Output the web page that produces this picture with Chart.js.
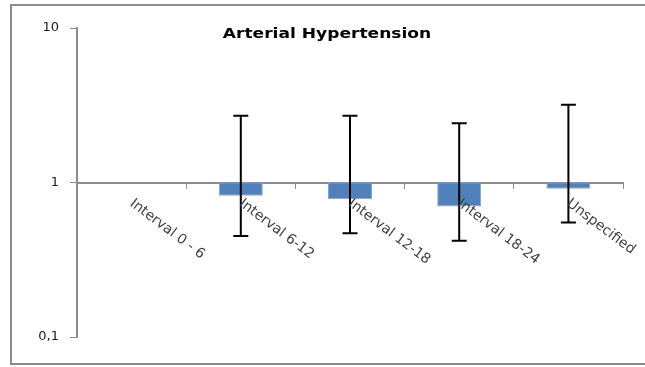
<!DOCTYPE html>
<html>
<head>
<meta charset="utf-8">
<script src="https://cdn.jsdelivr.net/npm/chart.js@4/dist/chart.umd.min.js"></script>
<style>
  html, body { margin: 0; padding: 0; background: #ffffff; overflow: hidden; }
  #wrap { width: 645px; height: 367px; position: relative; }
</style>
</head>
<body>
<div id="wrap"><canvas id="c" width="645" height="367"></canvas></div>
<script>
const chartTitle = 'Arterial Hypertension';
const categories = ['Interval 0 - 6', 'Interval 6-12', 'Interval 12-18', 'Interval 18-24', 'Unspecified'];
const oddsRatio = [null, 0.82, 0.78, 0.70, 0.91];
const errLow = [null, 0.45, 0.47, 0.42, 0.55];
const errHigh = [null, 2.70, 2.70, 2.42, 3.19];
const yTickValues = [0.1, 1, 10];
const yTickLabels = ['0,1', '1', '10'];

const barData = oddsRatio.map(v => v == null ? null : [v, 1]);

const decorPlugin = {
  id: 'decor',
  beforeDraw(chart) {
    const ctx = chart.ctx;
    ctx.save();
    ctx.fillStyle = '#ffffff';
    ctx.fillRect(0, 0, chart.width, chart.height);
    ctx.strokeStyle = '#8c8c8c';
    ctx.lineWidth = 2;
    ctx.beginPath();
    ctx.moveTo(chart.width + 5, 5);
    ctx.lineTo(11, 5);
    ctx.lineTo(11, 364);
    ctx.lineTo(chart.width + 5, 364);
    ctx.stroke();
    ctx.restore();
  },
  afterDatasetsDraw(chart) {
    const ctx = chart.ctx;
    const xs = chart.scales.x, ys = chart.scales.y;
    ctx.save();
    ctx.strokeStyle = '#000000';
    ctx.lineWidth = 2;
    categories.forEach((c, i) => {
      if (errLow[i] == null) return;
      const x = xs.getPixelForValue(i);
      const yl = ys.getPixelForValue(errLow[i]);
      const yh = ys.getPixelForValue(errHigh[i]);
      ctx.beginPath();
      ctx.moveTo(x, yl); ctx.lineTo(x, yh);
      ctx.moveTo(x - 7.5, yl); ctx.lineTo(x + 7.5, yl);
      ctx.moveTo(x - 7.5, yh); ctx.lineTo(x + 7.5, yh);
      ctx.stroke();
    });
    // category labels, rotated clockwise
    ctx.fillStyle = '#404040';
    ctx.font = '14px "DejaVu Sans"';
    ctx.textAlign = 'left';
    ctx.textBaseline = 'top';
    const base = ys.getPixelForValue(1);
    categories.forEach((c, i) => {
      const x = xs.getPixelForValue(i);
      ctx.save();
      ctx.translate(x + 4, base + 14);
      ctx.rotate(37 * Math.PI / 180);
      ctx.fillText(c, 0, 0);
      ctx.restore();
    });
    // title
    ctx.fillStyle = '#000000';
    ctx.font = 'bold 14px "DejaVu Sans"';
    ctx.textAlign = 'center';
    ctx.textBaseline = 'middle';
    ctx.translate(327, 34);
    ctx.scale(1.22, 1);
    ctx.fillText(chartTitle, 0, 0);
    ctx.restore();
  }
};

new Chart(document.getElementById('c'), {
  type: 'bar',
  data: {
    labels: categories,
    datasets: [{
      data: barData,
      backgroundColor: '#4f81bd',
      borderColor: '#7ea6d6',
      borderWidth: 1,
      borderSkipped: false,
      categoryPercentage: 1.0,
      barPercentage: 0.403
    }]
  },
  options: {
    responsive: false,
    animation: false,
    devicePixelRatio: 1,
    layout: { padding: { left: 0, right: 22, top: 28, bottom: 30 } },
    plugins: { legend: { display: false }, title: { display: false }, tooltip: { enabled: false } },
    scales: {
      x: {
        type: 'category',
        position: { y: 1 },
        offset: true,
        grid: { display: true, offset: true, drawOnChartArea: false, drawTicks: true, tickLength: 5, color: '#8c8c8c', lineWidth: 1 },
        border: { display: true, color: '#8c8c8c', width: 2 },
        ticks: { display: false }
      },
      y: {
        type: 'logarithmic',
        min: 0.1,
        max: 10,
        afterBuildTicks(scale) { scale.ticks = yTickValues.map(v => ({ value: v })); },
        afterFit(scale) { scale.width = 77; },
        grid: { display: true, drawOnChartArea: false, drawTicks: true, tickLength: 7, color: '#8c8c8c' },
        border: { display: true, color: '#8c8c8c', width: 2 },
        ticks: {
          padding: 11,
          color: '#1a1a1a',
          font: { family: '"DejaVu Sans"', size: 13 },
          callback(value) { const k = yTickValues.indexOf(value); return k >= 0 ? yTickLabels[k] : ''; }
        }
      }
    }
  },
  plugins: [decorPlugin]
});
</script>
</body>
</html>
